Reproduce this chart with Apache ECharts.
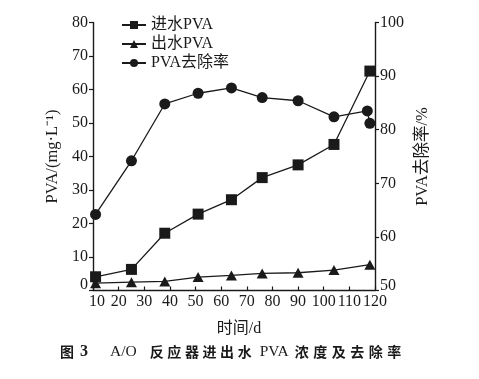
<!DOCTYPE html>
<html><head><meta charset="utf-8">
<script src="https://cdn.jsdelivr.net/npm/echarts@6/dist/echarts.min.js"></script>
<style>html,body{margin:0;padding:0;background:#fff}#c{width:479px;height:379px}</style>
</head><body><div id="c"></div>
<script>
const daysPVA = [11, 25, 38, 51, 64, 76, 90, 104, 118];
const influentPVA = [4.1, 6.3, 17.1, 22.8, 27.1, 33.7, 37.5, 43.6, 65.5];
const effluentPVA = [2.2, 2.5, 2.7, 4.0, 4.5, 5.1, 5.3, 6.1, 7.7];
const daysRemoval = [11, 25, 38, 51, 64, 76, 90, 104, 117, 118];
const removalRate = [64.2, 74.2, 84.8, 86.8, 87.8, 86.0, 85.4, 82.4, 83.5, 81.2];
const seriesNames = ['进水PVA', '出水PVA', 'PVA去除率'];
const xTicks = {min: 10, max: 120, interval: 10};
const yLeftTicks = {min: 0, max: 80, interval: 10};
const yRightTicks = {min: 50, max: 100, interval: 10};

const FONT = "'Liberation Serif', 'Noto Sans CJK SC', serif";
const CJK = "'Noto Sans CJK SC', sans-serif";
const INK = '#1a1a1a';
const pairs = (xs, ys) => xs.map((x, i) => [x, ys[i]]);
const FS = 16;
const axisCommon = {
  axisLine: {show: true, lineStyle: {color: INK, width: 1.4}},
  axisTick: {show: true, length: 4, lineStyle: {color: INK, width: 1.2}},
  splitLine: {show: false},
  axisLabel: {color: INK, fontSize: FS, fontFamily: FONT},
  nameTextStyle: {color: INK, fontSize: 16.5, fontFamily: FONT}
};
const cj = s => s.split('').map(ch => '{cj|' + ch + '}').join('');
const cj2 = s => s.split('').map(ch => '{cj2|' + ch + '}').join('');
const captionText = '{cjt|图}{n|3}{g22| }{la|A/O}{g12| }' + cj('反应器进出') + '{cjl|水}{g7| }{la|PVA}{g6| }' + cj2('浓度及去除') + '{cjl|率}';

const chart = echarts.init(document.getElementById('c'), null, {renderer: 'canvas'});
chart.setOption({
  animation: false,
  backgroundColor: '#fff',
  color: [INK, INK, INK],
  graphic: [{
    type: 'text', left: 60, top: 344,
    style: {
      text: captionText, fill: INK,
      rich: {
        cjt: {fontFamily: CJK, fontSize: 14, fontWeight: 'bold', fill: INK, padding: [0, 6, 0, 0]},
        cj: {fontFamily: CJK, fontSize: 14, fontWeight: 'bold', fill: INK, padding: [0, 3.6, 0, 0]},
        cj2: {fontFamily: CJK, fontSize: 14, fontWeight: 'bold', fill: INK, padding: [0, 4.5, 0, 0]},
        cjl: {fontFamily: CJK, fontSize: 14, fontWeight: 'bold', fill: INK},
        n: {fontFamily: FONT, fontSize: 16, fontWeight: 'bold', fill: INK},
        la: {fontFamily: FONT, fontSize: 15.5, fill: INK},
        g22: {width: 22, fontSize: 14},
        g12: {width: 13, fontSize: 14},
        g7: {width: 8, fontSize: 14},
        g6: {width: 6, fontSize: 14}
      }
    }
  }],
  legend: {
    orient: 'vertical', left: 116, top: 12,
    itemWidth: 24, itemHeight: 10, itemGap: 3,
    textStyle: {color: INK, fontSize: FS, fontFamily: FONT, lineHeight: 14},
    data: seriesNames
  },
  grid: {left: 93, right: 104, top: 22.5, bottom: 88.5, containLabel: false},
  xAxis: Object.assign({}, axisCommon, {
    type: 'value', min: xTicks.min, max: xTicks.max, interval: xTicks.interval,
    name: '时间/d', nameLocation: 'middle', nameGap: 30,
    nameTextStyle: {color: INK, fontSize: 16, fontFamily: FONT, padding: [0, 0, 0, 10]},
    axisTick: {show: true, inside: true, length: 4, lineStyle: {color: INK, width: 1.2}},
    axisLabel: {color: INK, fontSize: FS, fontFamily: FONT, margin: 3,
      formatter: v => v === 10 ? '{f|10}' : String(v),
      rich: {f: {fontSize: FS, fontFamily: FONT, color: INK, padding: [0, 0, 0, 8]}}}
  }),
  yAxis: [
    Object.assign({}, axisCommon, {
      type: 'value', min: yLeftTicks.min, max: yLeftTicks.max, interval: yLeftTicks.interval,
      name: 'PVA/(mg·L⁻¹)', nameLocation: 'middle', nameGap: 32, nameRotate: 90,
      axisLabel: {color: INK, fontSize: FS, fontFamily: FONT, margin: 5,
        formatter: v => v === 0 ? '{lo|0}' : String(v),
        rich: {lo: {fontSize: FS, fontFamily: FONT, color: INK, padding: [0, 0, 12, 0]}}}
    }),
    Object.assign({}, axisCommon, {
      type: 'value', position: 'right', min: yRightTicks.min, max: yRightTicks.max, interval: yRightTicks.interval,
      name: 'PVA去除率/%', nameLocation: 'middle', nameGap: 32, nameRotate: 90,
      axisLabel: {color: INK, fontSize: FS, fontFamily: FONT, margin: 5,
        formatter: v => v === 50 ? '{lo|50}' : String(v),
        rich: {lo: {fontSize: FS, fontFamily: FONT, color: INK, padding: [0, 0, 10, 0]}}}
    })
  ],
  series: [
    {name: seriesNames[0], type: 'line', yAxisIndex: 0, data: pairs(daysPVA, influentPVA),
     symbol: 'rect', symbolSize: 11, lineStyle: {color: INK, width: 1.3},
     itemStyle: {color: INK}},
    {name: seriesNames[1], type: 'line', yAxisIndex: 0, data: pairs(daysPVA, effluentPVA),
     symbol: 'triangle', symbolSize: [11, 10], lineStyle: {color: INK, width: 1.3},
     itemStyle: {color: INK}},
    {name: seriesNames[2], type: 'line', yAxisIndex: 1, data: pairs(daysRemoval, removalRate),
     symbol: 'circle', symbolSize: 11, lineStyle: {color: INK, width: 1.3},
     itemStyle: {color: INK}}
  ]
});
</script></body></html>
